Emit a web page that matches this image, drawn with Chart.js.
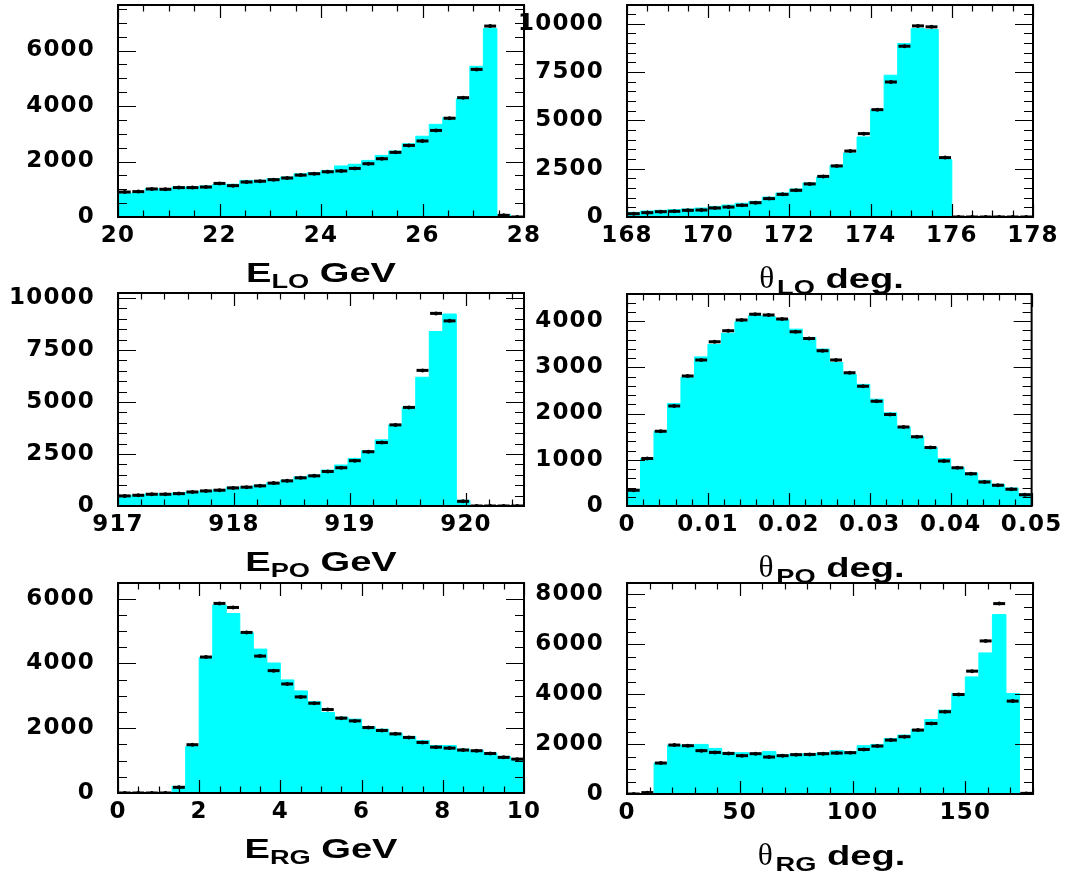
<!DOCTYPE html>
<html>
<head>
<meta charset="utf-8">
<script src="https://cdn.jsdelivr.net/npm/chart.js@4.4.0/dist/chart.umd.min.js"></script>
<style>
  body { margin: 0; background: #fff; width: 1071px; height: 873px; overflow: hidden; position: relative; }
  canvas { position: absolute; }
  .title {
    position: absolute; color: #000; white-space: nowrap;
    font: bold 28px "Liberation Sans", Arial, sans-serif; line-height: 28px;
    transform: translateX(-50%) scaleX(1.36);
  }
  .title .sub { font-size: 20px; position: relative; top: 6px; }
  .title .th { font: 32px "Liberation Serif", serif; display: inline-block; transform: scaleX(0.72); }
</style>
</head>
<body>
<script>
// E_LO (GeV), 30 bins over 20-28
const eLoMC   = [840, 865, 1020, 1020, 1080, 1080, 1120, 1180, 1180, 1320, 1320, 1380, 1440, 1560, 1600, 1680, 1840, 1900, 2040, 2220, 2380, 2640, 2910, 3340, 3580, 4260, 5430, 6790, 85, 0];
const eLoData = [900, 915, 1010, 1000, 1060, 1060, 1080, 1210, 1130, 1260, 1290, 1345, 1405, 1510, 1560, 1630, 1660, 1750, 1920, 2100, 2330, 2580, 2740, 3120, 3560, 4300, 5320, 6880, 60, 0];
const eLoXTicks = [20, 22, 24, 26, 28];
const eLoYTicks = [0, 2000, 4000, 6000];

// theta_LO (deg), 30 bins over 168-178
const thLoMC   = [240, 310, 345, 380, 415, 465, 550, 620, 710, 810, 1030, 1240, 1450, 1760, 2070, 2670, 3310, 4140, 5550, 7330, 8970, 9740, 9690, 2970, 0, 0, 0, 0, 0, 0];
const thLoData = [170, 225, 275, 295, 345, 360, 465, 515, 605, 740, 950, 1170, 1380, 1710, 2100, 2640, 3410, 4310, 5550, 6980, 8830, 9880, 9830, 3070, 0, 0, 0, 0, 0, 0];
const thLoXTicks = [168, 170, 172, 174, 176, 178];
const thLoYTicks = [0, 2500, 5000, 7500, 10000];

// E_PO (GeV), 30 bins over 917-920.5
const ePoMC   = [485, 515, 595, 595, 630, 675, 725, 775, 905, 920, 1000, 1130, 1240, 1400, 1485, 1725, 1970, 2290, 2660, 3180, 3900, 4740, 6190, 8390, 9230, 275, 0, 0, 0, 0];
const ePoData = [485, 515, 565, 565, 595, 675, 725, 760, 870, 905, 970, 1100, 1210, 1355, 1450, 1660, 1840, 2180, 2610, 3050, 3900, 4740, 6520, 9260, 8900, 225, 0, 0, 0, 0];
const ePoXTicks = [917, 918, 919, 920];
const ePoYTicks = [0, 2500, 5000, 7500, 10000];

// theta_PO (deg), 30 bins over 0-0.05
const thPoMC   = [360, 1025, 1615, 2215, 2780, 3225, 3495, 3735, 3985, 4115, 4095, 4035, 3825, 3645, 3395, 3105, 2845, 2630, 2310, 2015, 1710, 1495, 1265, 1025, 830, 715, 555, 470, 390, 265];
const thPoData = [340, 1025, 1615, 2165, 2810, 3155, 3550, 3790, 4020, 4145, 4130, 4045, 3770, 3625, 3355, 3155, 2880, 2590, 2265, 1980, 1710, 1495, 1265, 975, 825, 695, 520, 450, 360, 245];
const thPoXTicks = [0, 0.01, 0.02, 0.03, 0.04, 0.05];
const thPoYTicks = [0, 1000, 2000, 3000, 4000];

// E_RG (GeV), 30 bins over 0-10
const eRgMC   = [0, 0, 0, 0, 205, 1435, 4185, 5800, 5540, 4945, 4440, 4010, 3490, 3150, 2820, 2485, 2340, 2280, 2050, 1970, 1845, 1745, 1620, 1465, 1465, 1355, 1315, 1230, 1130, 1055];
const eRgData = [0, 0, 0, 0, 175, 1490, 4195, 5850, 5725, 4955, 4225, 3775, 3365, 2965, 2770, 2575, 2310, 2225, 2020, 1930, 1825, 1715, 1560, 1415, 1385, 1325, 1305, 1220, 1100, 1045];
const eRgXTicks = [0, 2, 4, 6, 8, 10];
const eRgYTicks = [0, 2000, 4000, 6000];

// theta_RG (deg), 30 bins over 0-180
const thRgMC   = [0, 0, 1240, 1960, 1960, 1985, 1825, 1665, 1655, 1625, 1705, 1560, 1600, 1615, 1640, 1735, 1695, 1935, 1985, 2225, 2360, 2585, 2985, 3360, 4025, 4690, 5650, 7185, 4025, 0];
const thRgData = [0, 55, 1240, 1960, 1935, 1735, 1665, 1625, 1535, 1615, 1480, 1535, 1575, 1585, 1615, 1640, 1655, 1785, 1920, 2160, 2295, 2560, 2825, 3295, 3985, 4920, 6130, 7625, 3720, 25];
const thRgXTicks = [0, 50, 100, 150];
const thRgYTicks = [0, 2000, 4000, 6000, 8000];

const panels = [
  { frame: [118, 5, 524, 217],    range: [20, 28],     yMax: 7640,  mc: eLoMC,  data: eLoData,  xTicks: eLoXTicks,  yTicks: eLoYTicks,  xMinor: 0.5,   yMinor: 500, title: ['E', 'LO', 'GeV'] },
  { frame: [627, 5, 1033, 217],   range: [168, 178],   yMax: 10960, mc: thLoMC, data: thLoData, xTicks: thLoXTicks, yTicks: thLoYTicks, xMinor: 0.5,   yMinor: 500, title: ['θ', 'LO', 'deg.'] },
  { frame: [118, 293, 524, 506],  range: [917, 920.5], yMax: 10240, mc: ePoMC,  data: ePoData,  xTicks: ePoXTicks,  yTicks: ePoYTicks,  xMinor: 0.2,   yMinor: 500, title: ['E', 'PO', 'GeV'] },
  { frame: [627, 294, 1033, 506], range: [0, 0.05],    yMax: 4585,  mc: thPoMC, data: thPoData, xTicks: thPoXTicks, yTicks: thPoYTicks, xMinor: 0.002, yMinor: 200, title: ['θ', 'PO', 'deg.'] },
  { frame: [118, 583, 524, 793],  range: [0, 10],      yMax: 6480,  mc: eRgMC,  data: eRgData,  xTicks: eRgXTicks,  yTicks: eRgYTicks,  xMinor: 0.5,   yMinor: 500, title: ['E', 'RG', 'GeV'] },
  { frame: [627, 583, 1033, 794], range: [0, 180],     yMax: 8450,  mc: thRgMC, data: thRgData, xTicks: thRgXTicks, yTicks: thRgYTicks, xMinor: 10,    yMinor: 500, title: ['θ', 'RG', 'deg.'] }
];

// ROOT style frame with inward ticks on all four sides
const rootFrame = {
  id: 'rootFrame',
  beforeDraw(chart) {
    // the original labels are drawn wide; spread the digits a little
    chart.ctx.letterSpacing = '1.2px';
  },
  afterDraw(chart, args, opts) {
    const { ctx, chartArea: a, scales: { x, y } } = chart;
    ctx.letterSpacing = '0px';
    const isMajor = (v, list) => list.some(t => Math.abs(t - v) < 1e-9 * (1 + Math.abs(v)));
    ctx.save();
    ctx.strokeStyle = '#000';
    ctx.lineWidth = 1.2;
    ctx.beginPath();
    for (let k = Math.ceil(x.min / opts.xMinor - 1e-6); k * opts.xMinor <= x.max + 1e-9; k++) {
      const v = k * opts.xMinor;
      const len = isMajor(v, opts.xTicks) ? 13 : 6.5;
      const px = Math.round(x.getPixelForValue(v)) + 0.5;
      ctx.moveTo(px, a.bottom); ctx.lineTo(px, a.bottom - len);
      ctx.moveTo(px, a.top); ctx.lineTo(px, a.top + len);
    }
    for (let k = 0; k * opts.yMinor <= y.max; k++) {
      const v = k * opts.yMinor;
      const len = isMajor(v, opts.yTicks) ? 18 : 9;
      const py = Math.round(y.getPixelForValue(v)) + 0.5;
      ctx.moveTo(a.left, py); ctx.lineTo(a.left + len, py);
      ctx.moveTo(a.right, py); ctx.lineTo(a.right - len, py);
    }
    ctx.stroke();
    ctx.lineWidth = 2;
    ctx.strokeRect(a.left, a.top, a.width, a.height);
    ctx.restore();
  }
};

const Y_W = 120, X_H = 60, PAD_T = 55, PAD_R = 32;
const tickFont = { family: '"DejaVu Sans", sans-serif', weight: 'bold', size: 23 };

panels.forEach(p => {
  const [L, T, R, B] = p.frame;
  const n = p.mc.length;
  const w = (p.range[1] - p.range[0]) / n;

  const cv = document.createElement('canvas');
  cv.width = Y_W + (R - L) + PAD_R;
  cv.height = PAD_T + (B - T) + X_H;
  cv.style.left = (L - Y_W) + 'px';
  cv.style.top = (T - PAD_T) + 'px';
  document.body.appendChild(cv);

  // step histogram: one point per left bin edge, plus the closing right edge
  const hist = p.mc.map((v, i) => ({ x: p.range[0] + i * w, y: v }));
  hist.push({ x: p.range[0] + n * w, y: p.mc[n - 1] });
  const points = p.data.map((v, i) => ({ x: p.range[0] + (i + 0.5) * w, y: v }));
  const halfBin = ctx => {
    const s = ctx.chart.scales.x;
    return Math.max(1, (s.getPixelForValue(p.range[0] + w) - s.getPixelForValue(p.range[0])) / 2 - 0.8);
  };

  new Chart(cv, {
    type: 'line',
    data: {
      datasets: [
        { data: points, showLine: false, order: 0, pointStyle: 'circle', pointRadius: 2,
          pointBackgroundColor: '#000', pointBorderWidth: 0 },
        { data: points, showLine: false, order: 1, pointStyle: 'line', pointRadius: halfBin,
          pointBorderColor: '#000', pointBorderWidth: 3 },
        { data: hist, stepped: true, order: 3, fill: 'origin', pointRadius: 0,
          borderColor: '#00ffff', backgroundColor: '#00ffff', borderWidth: 1 }
      ]
    },
    options: {
      responsive: false,
      animation: false,
      events: [],
      layout: { padding: { top: PAD_T, right: PAD_R, left: 0, bottom: 0 } },
      plugins: {
        legend: { display: false },
        tooltip: { enabled: false },
        rootFrame: { xMinor: p.xMinor, yMinor: p.yMinor, xTicks: p.xTicks, yTicks: p.yTicks }
      },
      scales: {
        x: {
          type: 'linear', min: p.range[0], max: p.range[1],
          grid: { display: false, drawTicks: false, tickLength: 0 },
          border: { display: false },
          afterBuildTicks: s => { s.ticks = p.xTicks.map(v => ({ value: v })); },
          afterFit: s => { s.height = X_H; },
          ticks: { font: tickFont, color: '#000', padding: 5, maxRotation: 0, autoSkip: false,
                   callback: v => String(+v.toFixed(4)) }
        },
        y: {
          type: 'linear', min: 0, max: p.yMax,
          grid: { display: false, drawTicks: false, tickLength: 0 },
          border: { display: false },
          afterBuildTicks: s => { s.ticks = p.yTicks.map(v => ({ value: v })); },
          afterFit: s => { s.width = Y_W; },
          ticks: { font: tickFont, color: '#000', padding: 23, callback: v => String(v) }
        }
      }
    },
    plugins: [rootFrame]
  });

  const t = document.createElement('div');
  t.className = 'title';
  t.style.left = ((L + R) / 2) + 'px';
  t.style.top = (B + 42) + 'px';
  const sym = p.title[0] === 'θ' ? `<span class="th">${p.title[0]}</span>` : p.title[0];
  t.innerHTML = `${sym}<span class="sub">${p.title[1]}</span> ${p.title[2]}`;
  document.body.appendChild(t);
});
</script>
</body>
</html>
